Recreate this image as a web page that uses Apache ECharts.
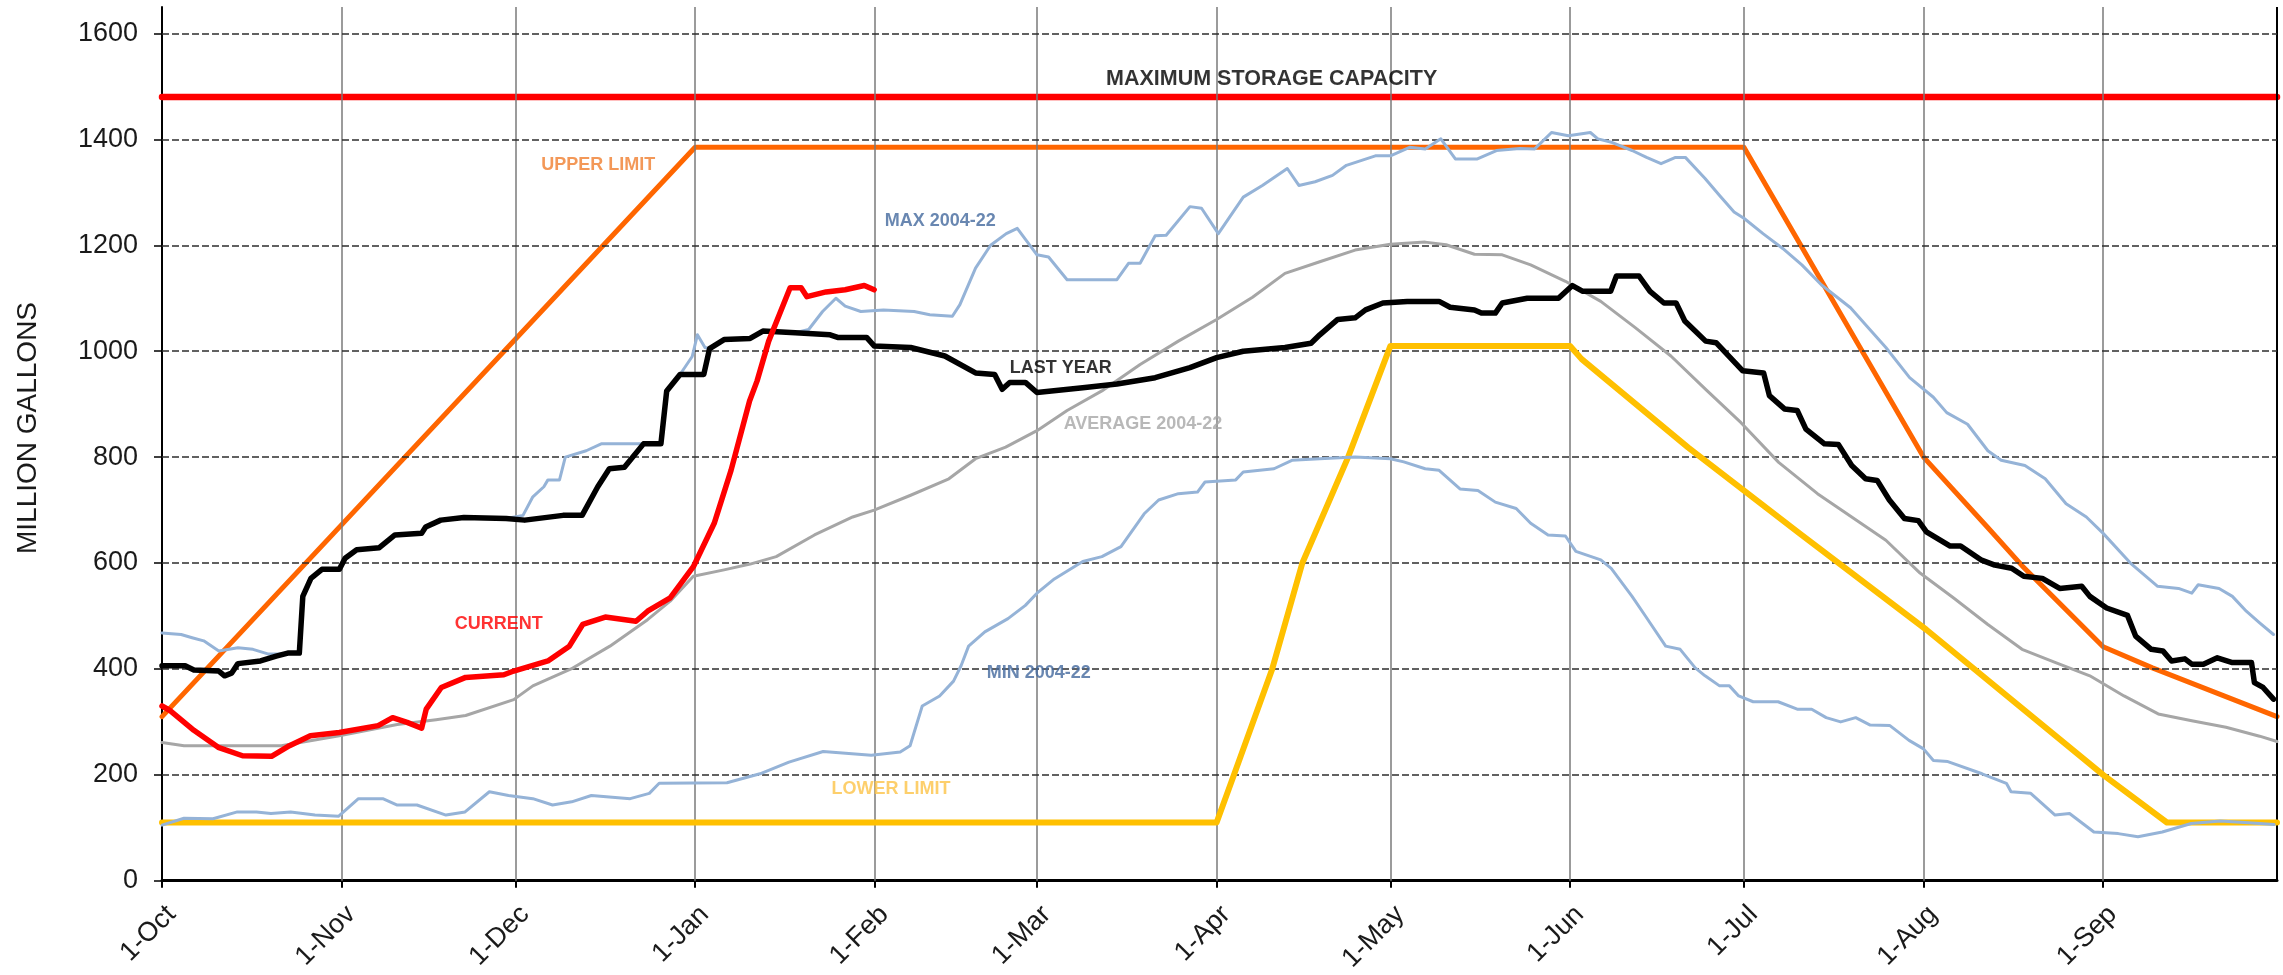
<!DOCTYPE html>
<html><head><meta charset="utf-8">
<script src="https://cdn.jsdelivr.net/npm/echarts@6/dist/echarts.min.js"></script>
<style>html,body{margin:0;padding:0;background:#fff}#c{width:2283px;height:975px}</style>
</head><body><div id="c"></div>
<script>
// x = days since 1-Oct
const monthDays = [0, 31, 61, 92, 123, 151, 182, 212, 243, 273, 304, 335];
const monthLabels = ['1-Oct','1-Nov','1-Dec','1-Jan','1-Feb','1-Mar','1-Apr','1-May','1-Jun','1-Jul','1-Aug','1-Sep'];
const yTicks = [0, 200, 400, 600, 800, 1000, 1200, 1400, 1600];

const capacity = [[0,1480],[365,1480]];
const upperLimit = [[0,310],[92,1385],[273,1385],[304,800],[315,668],[321,595],[335,442],[343.5,402],[365,310]];
const lowerLimit = [[0,110],[182,110],[185,200],[191.6,400],[196.8,600],[204.7,800],[212,1010],[243,1010],[245,985],[263.4,818],[282.6,656],[304.5,474],[335,200],[346,110],[365,110]];
const current = [[0,330],[1.3,322],[5.5,284],[9.7,252],[13.9,236],[18.9,235],[22,255],[25.6,274],[30.6,280],[37.3,293],[39.8,308],[42.3,299],[44.8,288],[45.6,324],[48.2,365],[52.4,384],[59,389],[60.7,396],[66.6,415],[70.3,443],[72.6,484],[76.5,498],[81.8,490],[83.8,509],[87.7,534],[91.7,593],[95.3,675],[98.2,775],[101.4,906],[102.7,944],[104.7,1019],[108.4,1120],[110.3,1120],[111.3,1103],[114.6,1112],[117.9,1116],[121.2,1124],[122.9,1116]];
const lastYear = [[0,406],[4,406],[5.5,398],[9.8,396],[10.8,387],[12,392],[13.1,410],[17,415],[19.7,424],[21.7,430],[23.7,430],[24.3,537],[25.7,571],[27.6,588],[30.6,588],[31.6,609],[33.6,625],[37.5,629],[40.2,653],[44.8,656],[45.5,668],[48.1,681],[52.1,686],[59.4,684],[62.6,681],[69.2,690],[72.5,690],[75.2,744],[77.2,778],[79.8,781],[83.1,825],[86.1,825],[87.1,925],[89.4,956],[93.5,956],[94.5,1005],[97,1022],[101.5,1024],[103.7,1038],[109.3,1035],[115.3,1031],[116.6,1026],[121.6,1026],[122.9,1010],[129.2,1007],[135.1,991],[140.4,959],[143.7,956],[145,928],[146.3,941],[149,941],[151,922],[158.9,931],[164.8,938],[171.4,950],[177.4,969],[182,988],[186.6,1000],[193.8,1007],[198.3,1015],[199.8,1031],[202.9,1060],[205.9,1063],[207.7,1078],[210.7,1091],[214.9,1094],[220.4,1094],[222.3,1083],[226.5,1078],[227.7,1072],[230.1,1072],[231.3,1091],[235.6,1100],[241,1100],[243.4,1124],[245.2,1113],[250,1113],[251,1142],[254.9,1142],[256.8,1113],[259.2,1091],[261.3,1091],[262.8,1057],[266.4,1019],[268.2,1016],[272.8,963],[276.4,959],[277.4,916],[280,891],[282.2,888],[283.7,853],[286.9,825],[289.3,824],[291.6,784],[294,759],[296,756],[298.1,719],[300.7,684],[303.1,680],[304.5,659],[308.6,632],[310.4,632],[313.9,606],[316.3,596],[319.2,590],[321.3,575],[324.5,571],[327.5,552],[331.3,556],[332.7,537],[335.6,515],[339.2,501],[340.6,462],[343.3,437],[345.3,434],[346.8,415],[349.1,419],[350.3,409],[352.3,409],[354.7,421],[357.3,412],[360.6,412],[361.1,374],[362.6,365],[364.4,343]];
const average = [[0,261],[3.8,255],[20.6,255],[30.6,274],[40.6,295],[47.3,304],[52.4,312],[60.7,342],[64,368],[70.6,400],[77.3,443],[83.8,493],[87.7,528],[91.7,575],[97,587],[101.5,598],[106,612],[112.6,653],[119.2,687],[122.9,700],[129.2,728],[135.8,759],[140.4,797],[145.6,819],[151,850],[156.2,888],[162.2,925],[168.8,975],[175.4,1019],[182,1060],[188.2,1102],[193.8,1147],[199.8,1169],[205.9,1191],[212,1202],[218,1206],[221.6,1201],[226.5,1183],[231.3,1182],[236.2,1163],[242.2,1132],[248.3,1094],[254.3,1044],[260.4,991],[266.4,928],[272.5,865],[279,790],[285.7,731],[291.6,687],[297.5,643],[303.4,581],[309.2,534],[315.1,484],[321,437],[326.8,412],[332.7,387],[338.6,349],[344.5,315],[350.3,302],[356.2,290],[362,273],[365,263]];
const max0422 = [[0,468],[3.3,465],[5.2,459],[7.2,453],[9.8,434],[13.1,440],[15.7,437],[18.4,428],[20.5,428],[21.7,430],[23.7,430],[24.3,537],[25.7,571],[27.6,588],[30.6,588],[31.6,609],[33.6,625],[37.5,629],[40.2,653],[44.8,656],[45.5,668],[48.1,681],[52.1,686],[59.4,684],[62.3,690],[64,725],[65.9,744],[66.6,757],[68.6,757],[69.6,800],[73.2,812],[75.8,825],[81,825],[86.1,825],[87.1,925],[89.4,956],[91.5,990],[92.4,1031],[93.7,1007],[94.5,1005],[97,1022],[101.5,1024],[103.7,1038],[109.3,1035],[111.6,1041],[114,1075],[116.3,1100],[117.9,1085],[120.6,1075],[124.5,1078],[129.8,1075],[132.5,1069],[136.4,1066],[137.7,1088],[140.4,1157],[143,1200],[145.7,1222],[147.6,1232],[151,1182],[153,1178],[156.2,1135],[164.8,1135],[166.8,1166],[168.8,1166],[171.4,1218],[173.3,1219],[177.4,1273],[179.4,1270],[182.3,1222],[186.6,1291],[189.9,1313],[194.2,1345],[196.2,1313],[199,1320],[202,1332],[204.4,1351],[209.4,1369],[212,1369],[215.3,1385],[218,1382],[220.7,1401],[223.2,1363],[227,1363],[230.3,1379],[234.3,1383],[236.9,1382],[239.8,1413],[242.7,1407],[246.5,1413],[247.8,1401],[250.3,1394],[253.7,1379],[256.2,1366],[258.7,1354],[261.2,1366],[262.9,1366],[266.3,1326],[268.8,1294],[271.3,1263],[273,1251],[276.3,1222],[279.7,1194],[283,1163],[286.4,1125],[291.4,1082],[294,1050],[297.5,1007],[301.6,950],[305.7,913],[308,884],[311.6,862],[315.1,812],[317.4,794],[321.5,784],[325,759],[328.6,712],[332.1,687],[335,656],[339.7,600],[344.4,556],[348,552],[350.3,543],[351.4,559],[355,552],[357.3,537],[359.7,509],[362,487],[364.4,465]];
const min0422 = [[0,105],[3.8,118],[8.8,117],[13,130],[16.3,130],[18.8,127],[22.2,130],[26.4,124],[30.5,122],[33.9,155],[38.1,155],[40.6,143],[44,143],[49,124],[52.3,130],[56.5,168],[59.8,161],[64,155],[67.4,143],[70.7,149],[74.1,161],[80.8,155],[84.1,165],[85.8,184],[97.5,185],[103.2,202],[108.2,224],[114.1,244],[122.4,237],[127.4,243],[129.1,255],[131.2,330],[134.2,349],[136.6,377],[137.9,406],[139.2,443],[142,470],[146,495],[149,520],[151,543],[154,570],[158.9,603],[162.2,612],[165.5,631],[169.5,693],[172,719],[175.4,731],[178.7,734],[180,753],[185.3,757],[186.6,772],[191.9,778],[195,794],[199.8,797],[205.9,800],[212,797],[214.3,791],[218,778],[220.4,775],[224,740],[227.1,737],[230.1,715],[233.7,703],[236.2,675],[239.2,653],[242.2,651],[244,622],[248.3,606],[250.1,590],[253.7,537],[256,500],[259.5,443],[262,437],[264.6,402],[266.3,387],[268.8,368],[270.5,368],[272.1,349],[274.6,338],[278.9,338],[282.2,324],[284.7,324],[287.2,308],[289.7,300],[292.3,308],[294.8,294],[298.2,293],[301.5,265],[304,249],[305.7,227],[308.2,225],[314.1,202],[318.3,184],[319.1,168],[322.5,165],[326.7,124],[329.2,127],[333.4,92],[337.6,89],[341,83],[345.2,92],[350.2,108],[355.2,113],[359.4,110],[364.5,106]];

const labelTexts = ['MAXIMUM STORAGE CAPACITY','UPPER LIMIT','MAX 2004-22','LAST YEAR','AVERAGE 2004-22','CURRENT','MIN 2004-22','LOWER LIMIT'];
const labelDays = [191.5, 75.3, 134.3, 155.1, 169.3, 58.1, 151.3, 125.8];
const labelValues = [1514, 1352, 1245, 968, 863, 484, 393, 173];
const labelColors = ['#000000','#F07E2E','#44699D','#000000','#A6A6A6','#FF0000','#44699D','#FCC347'];

const chart = echarts.init(document.getElementById('c'));
const lineSeries = (name, data, color, width, z) => ({
  name, type: 'line', data, showSymbol: false, symbol: 'none', smooth: false, z,
  lineStyle: { color, width, cap: 'round', join: 'round' }, silent: true, animation: false
});

chart.setOption({
  animation: false,
  backgroundColor: '#ffffff',
  grid: { left: 162, right: 6, top: 7, bottom: 89 },
  xAxis: {
    type: 'value', min: 0, max: 365,
    axisLine: { show: true, onZero: false, lineStyle: { color: '#000', width: 3 } },
    axisTick: { show: true, length: 7, lineStyle: { color: '#000', width: 2 }, customValues: monthDays },
    axisLabel: {
      customValues: monthDays, rotate: 45, margin: 20, verticalAlign: 'top',
      fontFamily: 'Liberation Sans, Arial, sans-serif', fontSize: 27, color: '#1a1a1a',
      formatter: v => { const i = monthDays.indexOf(Math.round(v)); return i >= 0 ? monthLabels[i] : ''; }
    },
    splitLine: { show: false }
  },
  yAxis: {
    type: 'value', min: 0, max: 1650,
    axisLine: { show: true, lineStyle: { color: '#000', width: 2 } },
    axisTick: { show: true, length: 8, lineStyle: { color: '#000', width: 1.5 }, customValues: yTicks },
    axisLabel: { customValues: yTicks, margin: 24, fontFamily: 'Liberation Sans, Arial, sans-serif', fontSize: 27, color: '#1a1a1a', formatter: v => String(v) },
    splitLine: { show: false }
  },
  graphic: [{
    type: 'text', x: 28, y: 428, rotation: Math.PI / 2,
    style: { text: 'MILLION GALLONS', font: '28px "Liberation Sans", Arial, sans-serif', fill: '#1a1a1a', align: 'center', verticalAlign: 'middle' }
  }],
  series: [
    {
      type: 'line', data: [[0, 0]], symbol: 'none', z: 1, silent: true, lineStyle: { opacity: 0 },
      markLine: {
        silent: true, symbol: ['none', 'none'], label: { show: false }, animation: false,
        data: [
          ...monthDays.slice(1).map(d => ({ xAxis: d, lineStyle: { color: '#7a7a7a', width: 1.5, type: 'solid' } })),
          { xAxis: 365, lineStyle: { color: '#000', width: 2, type: 'solid' } },
          ...yTicks.slice(1).map(v => ({ yAxis: v, lineStyle: { color: '#2e2e2e', width: 1.6, type: [7, 3] } }))
        ]
      }
    },
    lineSeries('Maximum storage capacity', capacity, '#FF0000', 6.5, 3),
    lineSeries('Upper limit', upperLimit, '#FF6600', 5, 4),
    lineSeries('Lower limit', lowerLimit, '#FFC000', 6, 5),
    lineSeries('Max 2004-22', max0422, '#95B3D7', 3, 6),
    lineSeries('Min 2004-22', min0422, '#95B3D7', 3, 6),
    lineSeries('Average 2004-22', average, '#A6A6A6', 3, 7),
    lineSeries('Last year', lastYear, '#000000', 5.5, 8),
    lineSeries('Current', current, '#FF0000', 5.5, 9),
    {
      type: 'scatter', symbolSize: 0, z: 20, silent: true,
      data: labelTexts.map((t, i) => ({
        name: t, value: [labelDays[i], labelValues[i]],
        label: { color: labelColors[i], fontSize: i === 0 ? 21.5 : 18 }
      })),
      label: {
        show: true, position: 'inside', formatter: p => p.name,
        fontFamily: 'Liberation Sans, Arial, sans-serif', fontWeight: 'bold'
      }
    }
  ]
});
</script></body></html>
